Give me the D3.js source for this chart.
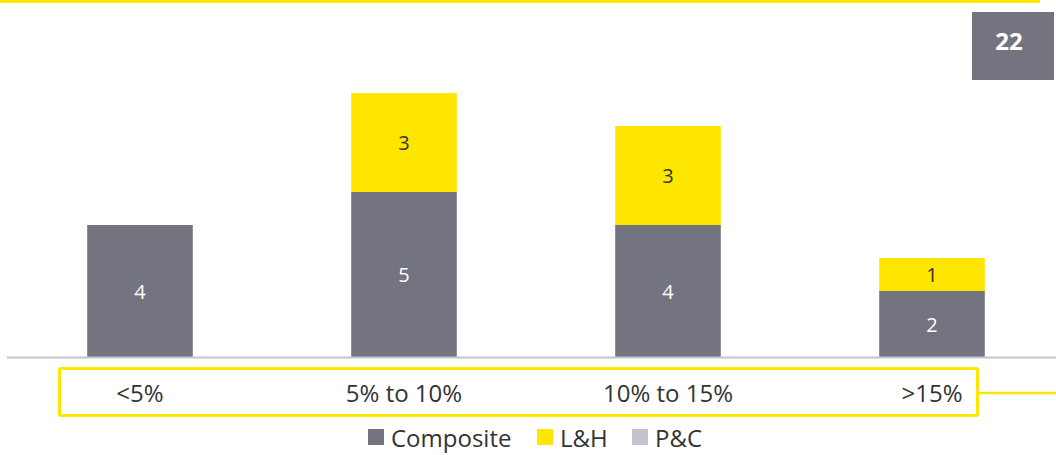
<!DOCTYPE html>
<html>
<head>
<meta charset="utf-8">
<script src="https://cdn.jsdelivr.net/npm/d3@7"></script>
<style>
  html, body { margin: 0; padding: 0; background: #fff; overflow: hidden; }
  svg { display: block; font-family: "Open Sans", "Noto Sans", sans-serif; }
</style>
</head>
<body>
<svg id="chart" width="1056" height="455"></svg>
<script>
const categories = ["<5%", "5% to 10%", "10% to 15%", ">15%"];
const seriesNames = ["Composite", "L&H", "P&C"];
const composite = [4, 5, 4, 2];
const lh = [0, 3, 3, 1];
const pc = [0, 0, 0, 0];
const pageNumber = "22";

const colors = { "Composite": "#747480", "L&H": "#FFE600", "P&C": "#C4C4CD" };
const labelColors = { "Composite": "#ffffff", "L&H": "#333333", "P&C": "#333333" };

const svg = d3.select("#chart");

const rows = categories.map((c, i) => ({ cat: c, "Composite": composite[i], "L&H": lh[i], "P&C": pc[i] }));
const stack = d3.stack().keys(seriesNames)(rows);

const x = d3.scaleBand().domain(categories).range([8, 1064]).paddingInner(0.6).paddingOuter(0.3);
const y = d3.scaleLinear().domain([0, 8]).range([357, 93]);

// top yellow rule
svg.append("rect").attr("x", 0).attr("y", 0).attr("width", 1040).attr("height", 3).attr("fill", "#FFE600");

// page number box
svg.append("rect").attr("x", 972).attr("y", 12).attr("width", 82).attr("height", 68).attr("fill", "#747480");
svg.append("text").attr("x", 1009).attr("y", 40).attr("text-anchor", "middle").attr("dominant-baseline", "central")
  .attr("fill", "#fff").attr("font-weight", "bold").attr("font-size", 24).text(pageNumber);

// bars
const g = svg.append("g");
stack.forEach(layer => {
  const key = layer.key;
  g.selectAll(null).data(layer).join("rect")
    .attr("x", d => x(d.data.cat))
    .attr("width", x.bandwidth())
    .attr("y", d => y(d[1]))
    .attr("height", d => Math.max(0, y(d[0]) - y(d[1])))
    .attr("fill", colors[key]);
  g.selectAll(null).data(layer.filter(d => d[1] - d[0] > 0)).join("text")
    .attr("x", d => x(d.data.cat) + x.bandwidth() / 2)
    .attr("y", d => (y(d[0]) + y(d[1])) / 2)
    .attr("text-anchor", "middle").attr("dominant-baseline", "central")
    .attr("font-size", 20).attr("fill", labelColors[key])
    .text(d => d[1] - d[0]);
});

// axis baseline + category labels
const xAxis = d3.axisBottom(x).tickSize(0).tickPadding(0);
const ax = svg.append("g").attr("transform", "translate(0,357)").call(xAxis);
ax.select(".domain").attr("d", "M7,0.5H1056").attr("stroke", "#C4C4CD").attr("stroke-width", 2);
ax.selectAll(".tick text").attr("y", 35).attr("dy", 0).attr("dominant-baseline", "central")
  .attr("font-size", 24).attr("fill", "#333333").attr("font-family", "'Open Sans', sans-serif");

// label box
svg.append("rect").attr("x", 59.5).attr("y", 368.5).attr("width", 918).attr("height", 47)
  .attr("fill", "none").attr("stroke", "#FFE600").attr("stroke-width", 3).attr("rx", 1.5);
svg.append("line").attr("x1", 979).attr("x2", 1056).attr("y1", 393).attr("y2", 393)
  .attr("stroke", "#FFE600").attr("stroke-width", 2.5);

// legend
const legend = svg.append("g").attr("transform", "translate(368,437)");
const legendX = [0, 169, 264];
seriesNames.forEach((s, i) => {
  const lg = legend.append("g").attr("transform", `translate(${legendX[i]},0)`);
  lg.append("rect").attr("x", 0).attr("y", -8).attr("width", 16).attr("height", 16).attr("fill", colors[s]);
  lg.append("text").attr("x", 23).attr("y", 0).attr("dominant-baseline", "central")
    .attr("font-size", 24).attr("fill", "#333333").text(s);
});
</script>
</body>
</html>
